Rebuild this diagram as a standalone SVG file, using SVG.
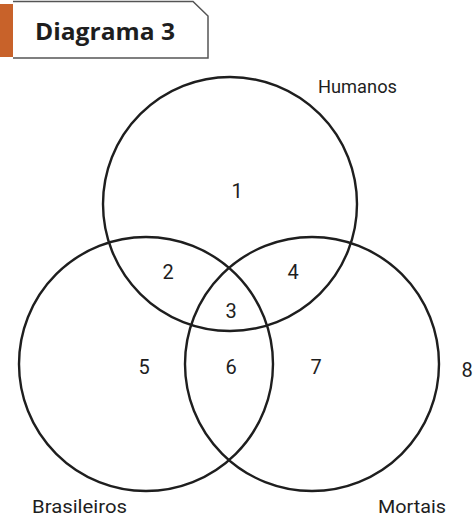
<svg xmlns="http://www.w3.org/2000/svg" width="474" height="517" viewBox="0 0 474 517">
<style>
.c{fill:none;stroke:#1e1e1e;stroke-width:2.4}
.n{font-family:Roboto,"Liberation Sans",sans-serif;font-size:20px;fill:#1e1e1e;text-anchor:middle}
.l{font-family:Roboto,"Liberation Sans",sans-serif;font-size:18px;fill:#1e1e1e}
</style>
<rect width="474" height="517" fill="#fff"/>
<g id="header">
<path d="M0 4 H13 V19 L17 24 L13 29 V57 H0 Z" fill="#c8622a"/>
<path d="M13 1.5 H193 L208 16 V58 H13" fill="#fff" stroke="#555" stroke-width="1.5"/>
<text x="35" y="40" font-family="'Open Sans','Liberation Sans',sans-serif" font-weight="bold" font-size="24" fill="#1e1e1e" textLength="140" lengthAdjust="spacingAndGlyphs">Diagrama 3</text>
</g>
<g id="humanos"><circle class="c" cx="230" cy="204" r="127"/><text class="l" x="318" y="93" textLength="79" lengthAdjust="spacingAndGlyphs">Humanos</text></g>
<g id="brasileiros"><circle class="c" cx="146" cy="364" r="127"/><text class="l" x="32" y="513" textLength="95" lengthAdjust="spacingAndGlyphs">Brasileiros</text></g>
<g id="mortais"><circle class="c" cx="312" cy="364" r="127"/><text class="l" x="378" y="513" textLength="68" lengthAdjust="spacingAndGlyphs">Mortais</text></g>
<g id="regions">
<text class="n" x="237" y="198">1</text>
<text class="n" x="168" y="279">2</text>
<text class="n" x="231" y="318">3</text>
<text class="n" x="293" y="279">4</text>
<text class="n" x="144" y="374">5</text>
<text class="n" x="231" y="374">6</text>
<text class="n" x="316" y="374">7</text>
<text class="n" x="467" y="377">8</text>
</g>
</svg>
